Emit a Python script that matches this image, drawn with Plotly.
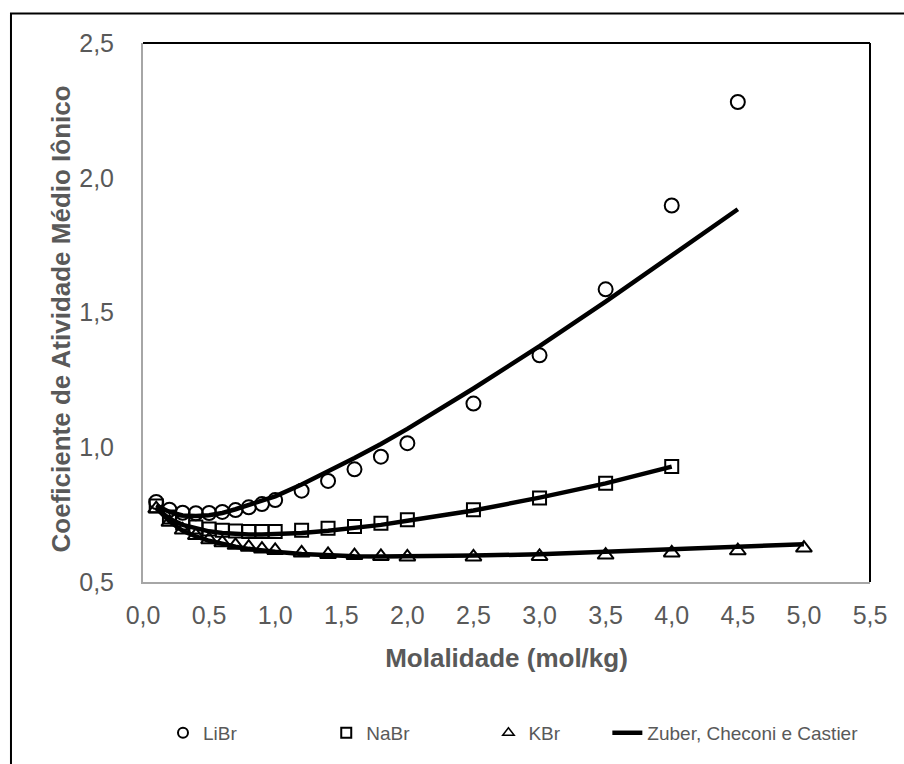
import plotly.graph_objects as go

# ---------------- data ----------------
m_li = [0.1, 0.2, 0.3, 0.4, 0.5, 0.6, 0.7, 0.8, 0.9, 1.0, 1.2, 1.4, 1.6, 1.8, 2.0, 2.5, 3.0, 3.5, 4.0, 4.5]
g_li = [0.797, 0.768, 0.757, 0.755, 0.756, 0.760, 0.767, 0.777, 0.789, 0.804, 0.839, 0.875, 0.918, 0.965, 1.015, 1.162, 1.341, 1.586, 1.897, 2.281]

m_na = [0.1, 0.2, 0.3, 0.4, 0.5, 0.6, 0.7, 0.8, 0.9, 1.0, 1.2, 1.4, 1.6, 1.8, 2.0, 2.5, 3.0, 3.5, 4.0]
g_na = [0.782, 0.741, 0.719, 0.704, 0.697, 0.692, 0.689, 0.687, 0.687, 0.687, 0.692, 0.699, 0.706, 0.718, 0.731, 0.768, 0.812, 0.866, 0.929]

m_k = [0.1, 0.2, 0.3, 0.4, 0.5, 0.6, 0.7, 0.8, 0.9, 1.0, 1.2, 1.4, 1.6, 1.8, 2.0, 2.5, 3.0, 3.5, 4.0, 4.5, 5.0]
g_k = [0.772, 0.722, 0.693, 0.673, 0.657, 0.646, 0.636, 0.629, 0.622, 0.617, 0.608, 0.602, 0.598, 0.595, 0.593, 0.593, 0.595, 0.600, 0.608, 0.616, 0.626]

# model (Zuber, Checoni e Castier)
mod_li = [0.785, 0.760, 0.747, 0.745, 0.748, 0.756, 0.770, 0.785, 0.800, 0.818, 0.862, 0.910, 0.960, 1.012, 1.068, 1.218, 1.375, 1.540, 1.710, 1.883]
mod_na = [0.775, 0.735, 0.712, 0.698, 0.688, 0.682, 0.678, 0.676, 0.676, 0.677, 0.682, 0.690, 0.700, 0.712, 0.727, 0.765, 0.813, 0.866, 0.928]
mod_k = [0.775, 0.725, 0.690, 0.669, 0.653, 0.641, 0.631, 0.623, 0.617, 0.612, 0.604, 0.599, 0.596, 0.595, 0.595, 0.598, 0.603, 0.612, 0.622, 0.630, 0.640]

x_ticks = [0.0, 0.5, 1.0, 1.5, 2.0, 2.5, 3.0, 3.5, 4.0, 4.5, 5.0, 5.5]
y_ticks = [0.5, 1.0, 1.5, 2.0, 2.5]

FONT = "Liberation Sans, Arial, sans-serif"
GRAY = "#595959"
LINE_W = 4.5
NB = "\u00a0"

fig = go.Figure()

# model lines
for mx, my in [(m_li, mod_li), (m_na, mod_na), (m_k, mod_k)]:
    fig.add_trace(go.Scatter(x=mx, y=my, mode="lines", line=dict(color="black", width=LINE_W),
                             showlegend=False, hoverinfo="skip"))

# experimental markers
fig.add_trace(go.Scatter(x=m_li, y=g_li, mode="markers", showlegend=False,
                         marker=dict(symbol="circle-open", size=14, color="black", line=dict(width=2))))
fig.add_trace(go.Scatter(x=m_na, y=g_na, mode="markers", showlegend=False,
                         marker=dict(symbol="square-open", size=13, color="black", line=dict(width=2))))
fig.add_trace(go.Scatter(x=m_k, y=g_k, mode="markers", showlegend=False,
                         marker=dict(symbol="triangle-up-open", size=14, color="black", line=dict(width=2))))

# legend entries
fig.add_trace(go.Scatter(x=[None], y=[None], mode="markers", name="LiBr" + NB * 16,
                         marker=dict(symbol="circle-open", size=10, color="black", line=dict(width=2))))
fig.add_trace(go.Scatter(x=[None], y=[None], mode="markers", name="NaBr" + NB * 14,
                         marker=dict(symbol="square-open", size=10, color="black", line=dict(width=2))))
fig.add_trace(go.Scatter(x=[None], y=[None], mode="markers", name="KBr" + NB * 8,
                         marker=dict(symbol="triangle-up-open", size=10, color="black", line=dict(width=1.5))))
fig.add_trace(go.Scatter(x=[None], y=[None], mode="lines", name="Zuber, Checoni e Castier",
                         line=dict(color="black", width=LINE_W)))

fig.update_layout(
    width=904, height=764,
    margin=dict(l=143, r=34, t=43, b=174),
    paper_bgcolor="white", plot_bgcolor="white",
    separators=",.",
    font=dict(family=FONT, color=GRAY),
    showlegend=True,
    legend=dict(orientation="h", x=0.0275, xanchor="left", y=-0.28, yanchor="middle",
                font=dict(size=19, color=GRAY, family=FONT), bgcolor="rgba(0,0,0,0)"),
    xaxis=dict(range=[0, 5.5], tickvals=x_ticks, tickformat=".1f", showgrid=False, zeroline=False,
               showline=True, linecolor="#a6a6a6", linewidth=2, ticks="", ticklabelstandoff=10,
               tickfont=dict(size=25, color=GRAY, family=FONT),
               title=dict(text="<b>Molalidade (mol/kg)</b>", font=dict(size=26, color=GRAY, family=FONT), standoff=21)),
    yaxis=dict(range=[0.5, 2.5], tickvals=y_ticks, tickformat=".1f", showgrid=False, zeroline=False,
               showline=True, linecolor="#a6a6a6", linewidth=2, ticks="", ticklabelstandoff=22,
               tickfont=dict(size=25, color=GRAY, family=FONT)),
    annotations=[
        dict(text="<b>Coeficiente de Atividade Médio Iônico</b>", xref="paper", yref="paper",
             x=-0.1128, y=0.489, xanchor="center", yanchor="middle", textangle=-90, showarrow=False,
             font=dict(size=26, color=GRAY, family=FONT)),
    ],
    shapes=[
        dict(type="line", xref="paper", yref="paper", x0=0, x1=1, y0=1, y1=1, line=dict(color="black", width=2)),
        dict(type="line", xref="paper", yref="paper", x0=1, x1=1, y0=0, y1=1, line=dict(color="black", width=2)),
        dict(type="rect", xref="paper", yref="paper", x0=-0.1816, x1=1.2, y0=-0.4, y1=1.0548,
             line=dict(color="black", width=2), fillcolor="rgba(0,0,0,0)", layer="below"),
    ],
)

fig.write_html("out.html")
